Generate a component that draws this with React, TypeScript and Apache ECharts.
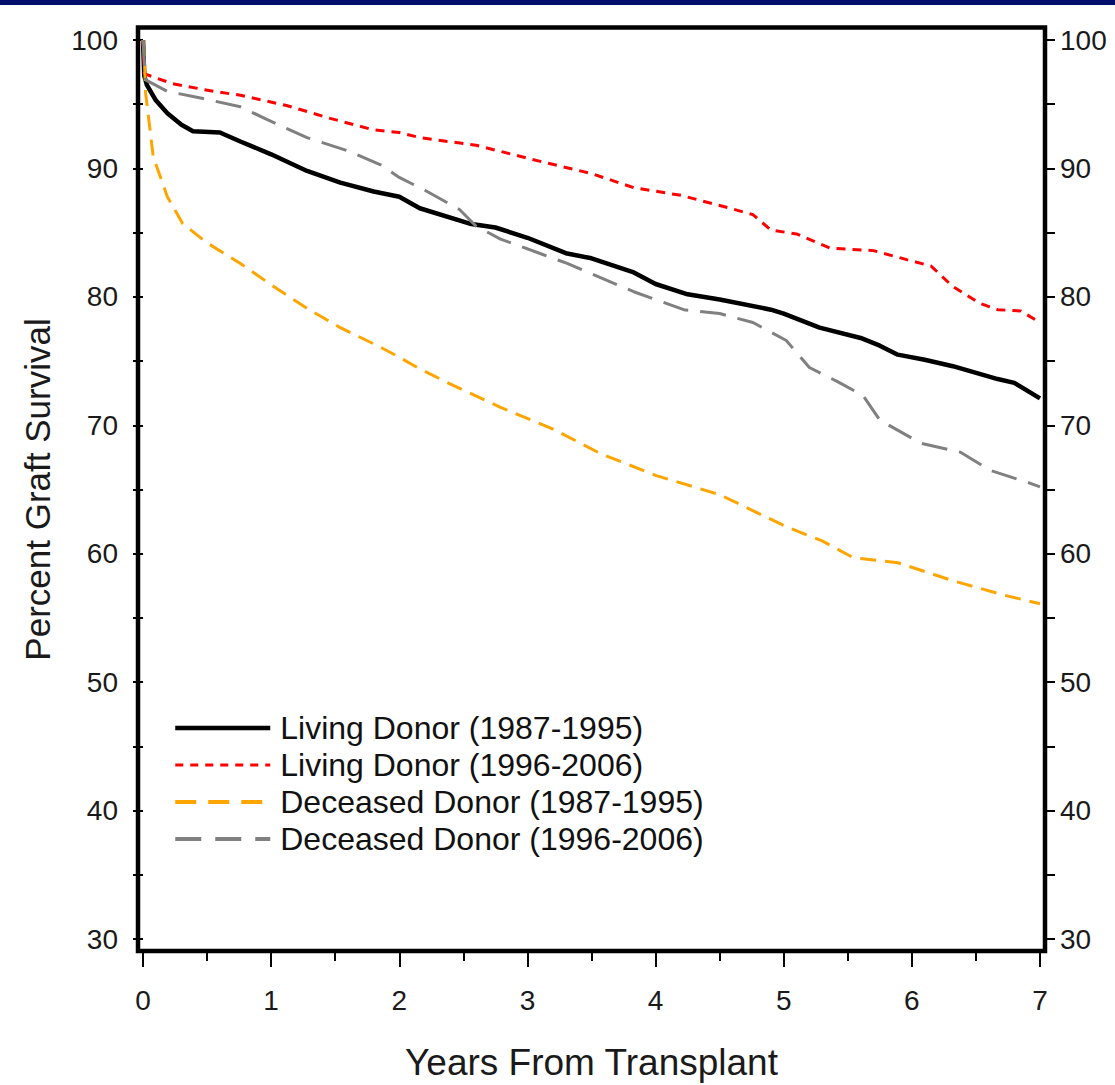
import React, { useEffect, useRef } from "react";
import * as echarts from "echarts";

const seriesNames = [
  "Living Donor (1987-1995)",
  "Living Donor (1996-2006)",
  "Deceased Donor (1987-1995)",
  "Deceased Donor (1996-2006)",
];

const livingOld: number[][] = [
  [0, 100], [0.01, 97.2], [0.03, 96.5], [0.1, 95.3], [0.19, 94.3], [0.3, 93.4], [0.39, 92.9],
  [0.6, 92.8], [0.76, 92.1], [1.0, 91.1], [1.28, 89.8], [1.54, 88.9], [1.8, 88.2], [2.0, 87.8],
  [2.16, 86.9], [2.55, 85.7], [2.75, 85.4], [3.0, 84.6], [3.3, 83.4], [3.5, 83.0], [3.83, 81.9],
  [4.0, 81.0], [4.25, 80.2], [4.5, 79.8], [4.9, 79.0], [5.0, 78.7], [5.28, 77.6], [5.6, 76.8],
  [5.75, 76.2], [5.89, 75.5], [6.1, 75.1], [6.32, 74.6], [6.67, 73.6], [6.8, 73.3], [7.0, 72.1],
];

const livingNew: number[][] = [
  [0, 100], [0.01, 97.4], [0.03, 97.3], [0.23, 96.6], [0.55, 96.0], [0.76, 95.7], [1.12, 94.9],
  [1.46, 93.9], [1.8, 93.0], [2.0, 92.8], [2.16, 92.4], [2.6, 91.8], [3.12, 90.5], [3.5, 89.6],
  [3.83, 88.5], [4.2, 87.9], [4.58, 86.9], [4.76, 86.4], [4.9, 85.2], [5.1, 84.9], [5.36, 83.8],
  [5.7, 83.6], [5.96, 82.9], [6.15, 82.4], [6.32, 80.8], [6.53, 79.5], [6.67, 79.0], [6.85, 78.9],
  [7.0, 78.0],
];

const deceasedOld: number[][] = [
  [0, 100], [0.01, 98.7], [0.02, 95.9], [0.08, 90.9], [0.19, 87.8], [0.31, 85.7], [0.5, 84.2],
  [0.76, 82.6], [1.02, 80.8], [1.28, 79.1], [1.54, 77.6], [1.85, 76.1], [2.0, 75.3], [2.14, 74.5],
  [2.4, 73.2], [2.79, 71.4], [3.2, 69.7], [3.57, 67.8], [4.0, 66.1], [4.5, 64.6], [5.02, 62.1],
  [5.3, 61.0], [5.54, 59.7], [5.89, 59.3], [6.32, 57.9], [6.71, 56.8], [7.0, 56.1],
];

const deceasedNew: number[][] = [
  [0, 100], [0.02, 96.9], [0.19, 96.0], [0.44, 95.5], [0.76, 94.8], [0.97, 93.8], [1.28, 92.4],
  [1.59, 91.4], [1.85, 90.3], [2.0, 89.3], [2.2, 88.3], [2.47, 86.8], [2.6, 85.5], [2.79, 84.5],
  [3.12, 83.3], [3.31, 82.6], [3.83, 80.4], [4.22, 79.0], [4.5, 78.7], [4.76, 78.0], [5.02, 76.6],
  [5.2, 74.5], [5.42, 73.4], [5.62, 72.3], [5.75, 70.4], [6.07, 68.6], [6.38, 67.9], [6.61, 66.5],
  [6.92, 65.5], [7.0, 65.2],
];

const seriesData = [livingOld, livingNew, deceasedOld, deceasedNew];
const seriesColors = ["#000000", "#ff0000", "#ffa500", "#808080"];

const FONT = "'Liberation Sans', Arial, sans-serif";

export default function App() {
  const ref = useRef<HTMLDivElement>(null);

  useEffect(() => {
    if (!ref.current) return;
    const chart = echarts.init(ref.current, undefined, { renderer: "svg" });

    const lineStyles: any[] = [
      { width: 4.5, type: "solid" },
      { width: 3, type: [9, 7] },
      { width: 3, type: [16, 9] },
      { width: 3, type: [26, 12] },
    ];
    const legendLineStyles: any[] = [
      { width: 4.5, type: "solid" },
      { width: 3, type: [8, 7] },
      { width: 4, type: [21, 12] },
      { width: 4, type: [26, 14] },
    ];

    const yAxisCommon = {
      type: "value",
      min: 30,
      max: 100,
      interval: 10,
      offset: 5,
      axisLine: { show: false },
      axisTick: { show: true, length: 10, lineStyle: { color: "#000", width: 2 } },
      minorTick: { show: true, splitNumber: 2, length: 10, lineStyle: { color: "#000", width: 2 } },
      splitLine: { show: false },
      minorSplitLine: { show: false },
      axisLabel: { fontSize: 28, color: "#1a1a1a", fontFamily: FONT },
    };

    const option: any = {
      animation: false,
      backgroundColor: "#ffffff",
      graphic: [
        {
          type: "rect",
          shape: { x: 0, y: 0, width: 1115, height: 5 },
          style: { fill: "#020e6c" },
          z: 20,
        },
        {
          type: "rect",
          shape: { x: 138, y: 27.5, width: 907, height: 923.5 },
          style: { fill: "none", stroke: "#000", lineWidth: 4.5 },
          z: 20,
        },
      ],
      grid: {
        left: 143,
        right: 75,
        top: 40,
        bottom: 146,
        containLabel: false,
        outerBoundsMode: "none",
      },
      legend: {
        orient: "vertical",
        left: 173,
        top: 712,
        padding: 0,
        itemWidth: 95,
        itemHeight: 14,
        itemGap: 5,
        itemStyle: { opacity: 0, borderWidth: 0 },
        textStyle: { fontSize: 32, color: "#111", fontFamily: FONT, padding: [0, 0, 0, 5] },
        data: seriesNames.map((n, i) => ({
          name: n,
          lineStyle: legendLineStyles[i],
          itemStyle: { opacity: 0, borderWidth: 0 },
        })),
      },
      xAxis: {
        type: "value",
        min: 0,
        max: 7,
        interval: 1,
        offset: 12,
        axisLine: { show: false },
        axisTick: { show: true, length: 16, lineStyle: { color: "#000", width: 2 } },
        minorTick: { show: true, splitNumber: 2, length: 10, lineStyle: { color: "#000", width: 2 } },
        splitLine: { show: false },
        minorSplitLine: { show: false },
        axisLabel: { fontSize: 28, color: "#1a1a1a", fontFamily: FONT, margin: 35 },
        name: "Years From Transplant",
        nameLocation: "middle",
        nameGap: 93,
        nameTextStyle: { fontSize: 37, color: "#1a1a1a", fontFamily: FONT },
      },
      yAxis: [
        {
          ...yAxisCommon,
          position: "left",
          axisLabel: { ...yAxisCommon.axisLabel, margin: 20 },
          name: "Percent Graft Survival",
          nameLocation: "middle",
          nameGap: 83,
          nameTextStyle: { fontSize: 35, color: "#1a1a1a", fontFamily: FONT },
        },
        {
          ...yAxisCommon,
          position: "right",
          axisLabel: { ...yAxisCommon.axisLabel, margin: 15 },
        },
      ],
      series: seriesNames.map((n, i) => ({
        name: n,
        type: "line",
        data: seriesData[i],
        symbol: "none",
        showSymbol: false,
        color: seriesColors[i],
        lineStyle: { color: seriesColors[i], ...lineStyles[i] },
      })),
    };

    chart.setOption(option);
    return () => chart.dispose();
  }, []);

  return (
    <div
      ref={ref}
      style={{ position: "fixed", left: 0, top: 0, width: 1115, height: 1085, background: "#fff" }}
    />
  );
}
